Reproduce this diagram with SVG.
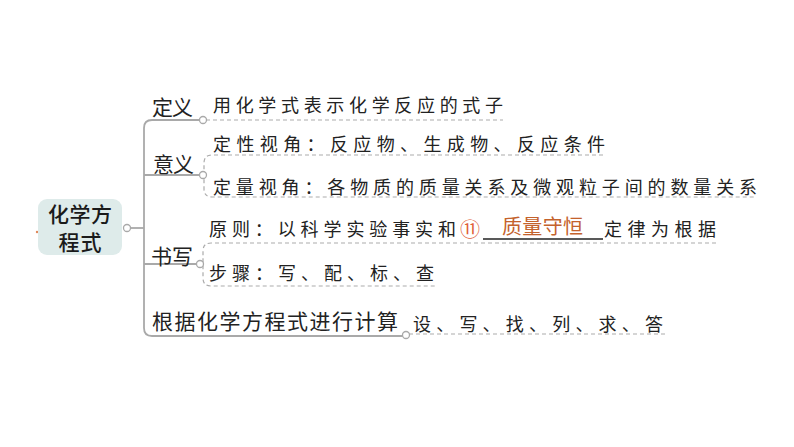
<svg xmlns="http://www.w3.org/2000/svg" width="794" height="447" viewBox="0 0 794 447">
<style>
.lbl{font-family:"Noto Sans CJK SC","Noto Sans",sans-serif;font-size:21px;fill:#222;dominant-baseline:central}
.sub{font-family:"Noto Sans CJK SC","Noto Sans",sans-serif;font-size:18px;fill:#222;dominant-baseline:central}
.root{font-family:"Noto Sans CJK SC","Noto Sans",sans-serif;font-size:21px;font-weight:500;fill:#1a1a1a;text-anchor:middle;dominant-baseline:central}
.trunk{fill:none;stroke:#a9a9a9;stroke-width:1.8}
.dash{fill:none;stroke:#ababab;stroke-width:1.2;stroke-dasharray:4 3}
.knob{fill:#fff;stroke:#a9a9a9;stroke-width:1.3}
</style>
<rect width="794" height="447" fill="#fff"/>
<g id="connectors">
<path class="trunk" d="M130 228 H144"/>
<path class="trunk" d="M200 120 H152 Q144 120 144 128 V328 Q144 336 152 336 H403"/>
<path class="trunk" d="M144 175 H200"/>
<path class="trunk" d="M144 264 H197"/>
<path class="dash" d="M206 120 H503"/>
<path class="dash" d="M603 155 H212 Q204 155 204 163 V189 Q204 197 212 197 H756"/>
<path class="dash" d="M716 243 H211 Q203 243 203 251 V278 Q203 286 211 286 H436"/>
<path class="dash" d="M409 334 H668"/>
<circle class="knob" cx="127" cy="228" r="3.5"/>
<circle class="knob" cx="203" cy="120" r="3.5"/>
<circle class="knob" cx="203" cy="175" r="3.5"/>
<circle class="knob" cx="200" cy="264" r="3.5"/>
<circle class="knob" cx="406" cy="335" r="3.5"/>
</g>
<g id="root">
<circle cx="37" cy="232" r="1.2" fill="#e0885a"/>
<rect x="38" y="199" width="84" height="56" rx="9" fill="#deebea"/>
<text class="root" x="80" y="213" textLength="64" lengthAdjust="spacing">化学方</text>
<text class="root" x="80" y="241" textLength="43" lengthAdjust="spacing">程式</text>
</g>
<g id="node-dingyi">
<text class="lbl" x="152" y="106" textLength="41">定义</text>
<text class="sub" x="213" y="104" textLength="290" lengthAdjust="spacing">用化学式表示化学反应的式子</text>
</g>
<g id="node-yiyi">
<text class="lbl" x="153" y="163" textLength="41">意义</text>
<text class="sub" x="213" y="143" textLength="392" lengthAdjust="spacing">定性视角：反应物、生成物、反应条件</text>
<text class="sub" x="213" y="186" textLength="544" lengthAdjust="spacing">定量视角：各物质的质量关系及微观粒子间的数量关系</text>
</g>
<g id="node-shuxie">
<text class="lbl" x="151" y="255" textLength="42">书写</text>
<text class="sub" x="209" y="228" textLength="247" lengthAdjust="spacing">原则：以科学实验事实和</text>
<text x="470" y="228" text-anchor="middle" dominant-baseline="central" font-family="Noto Sans CJK SC, Noto Sans, sans-serif" font-size="20" fill="#e0603a">⑪</text>
<path d="M483 239 H603" stroke="#222" stroke-width="1.3"/>
<text x="502" y="225" dominant-baseline="central" font-family="Noto Sans CJK SC, Noto Sans, sans-serif" font-size="20" fill="#c4622c" textLength="81" lengthAdjust="spacing">质量守恒</text>
<text class="sub" x="604" y="228" textLength="112" lengthAdjust="spacing">定律为根据</text>
<text class="sub" x="209" y="272" textLength="225" lengthAdjust="spacing">步骤：写、配、标、查</text>
</g>
<g id="node-jisuan">
<text class="lbl" x="152" y="320" font-size="22" textLength="246" lengthAdjust="spacing">根据化学方程式进行计算</text>
<text class="sub" x="413" y="323" textLength="250" lengthAdjust="spacing">设、写、找、列、求、答</text>
</g>
</svg>
